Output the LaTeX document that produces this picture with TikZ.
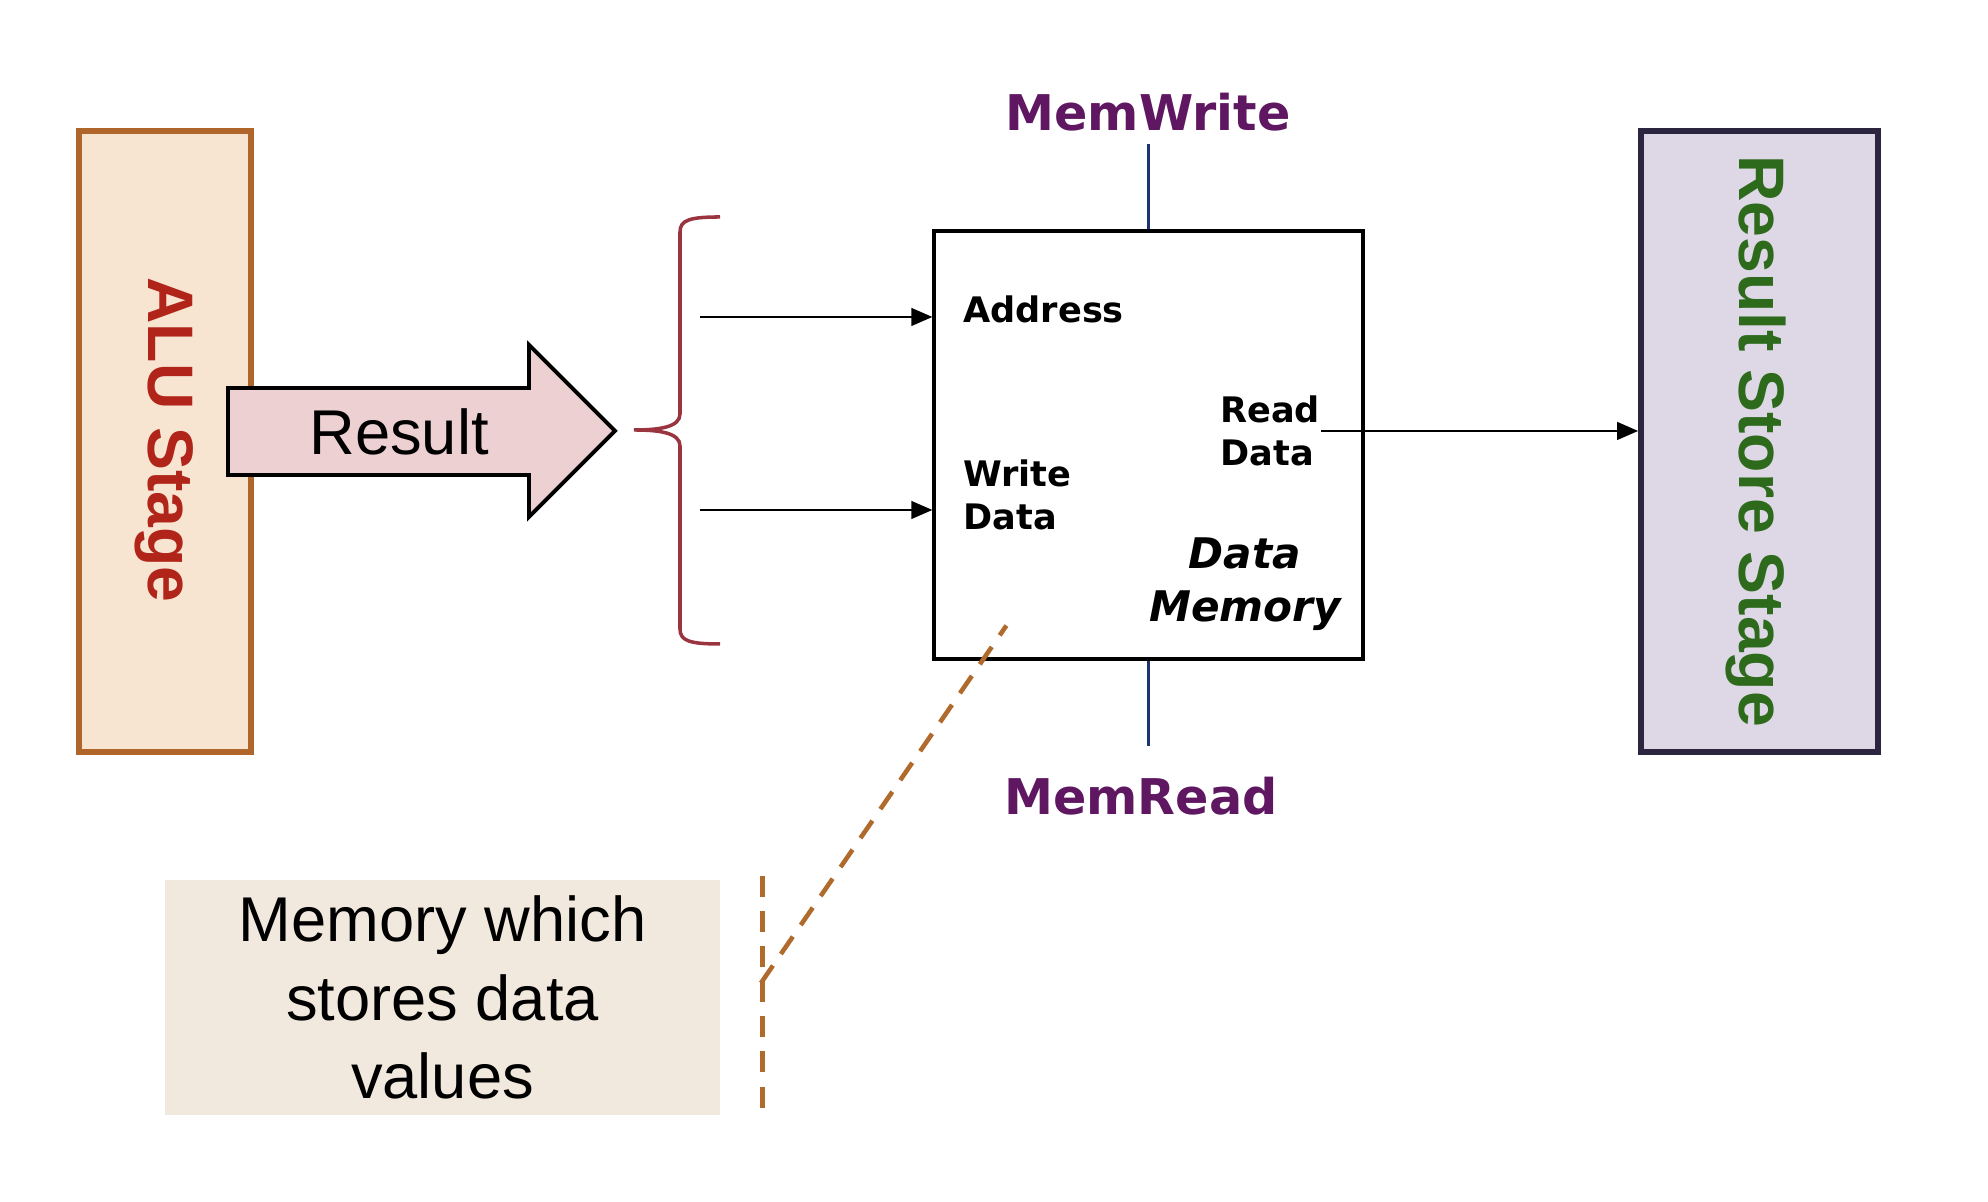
\documentclass[tikz,border=0pt]{standalone}
\usepackage{fontspec}
\setmainfont{Liberation Sans}
\newfontfamily\verd{DejaVu Sans}[ItalicFont={DejaVu Sans Oblique},BoldItalicFont={DejaVu Sans Bold Oblique}]
\usetikzlibrary{arrows.meta}

\definecolor{alufill}{HTML}{F8E5D1}
\definecolor{aluline}{HTML}{B0652B}
\definecolor{alutext}{HTML}{B0241A}
\definecolor{resfill}{HTML}{EDD0D2}
\definecolor{bracecol}{HTML}{9A3540}
\definecolor{ctlcol}{HTML}{5F1762}
\definecolor{wirecol}{HTML}{1C3470}
\definecolor{rsfill}{HTML}{DED8E6}
\definecolor{rsline}{HTML}{2B2540}
\definecolor{rstext}{HTML}{2E6A1C}
\definecolor{notefill}{HTML}{F2E9DE}
\definecolor{callout}{HTML}{B06A2C}

\begin{document}
\begin{tikzpicture}[
            > = {Triangle[length=6pt,width=5pt]}, % arrow head style
            line width = 0.75pt,
            stagebox/.style = {draw, inner sep=0, minimum height=6.21cm},
            stagetext/.style = {rotate=-90, font=\bfseries\fontsize{18.3}{20}\selectfont},
            port/.style = {anchor=west, inner sep=0, align=left,
                font=\verd\bfseries\fontsize{10}{12.2}\selectfont},
            ctl/.style = {text=ctlcol, font=\verd\bfseries\fontsize{14}{16}\selectfont},
            ctlwire/.style = {draw=wirecol, line width=0.9pt},
            dashline/.style = {draw=callout, line width=1.3pt, dash pattern=on 6pt off 4pt}
        ]

        \useasboundingbox (0,0) rectangle (19.88,12.02);

        % pipeline stages
        \node[stagebox, draw=aluline, fill=alufill, line width=1.5pt, minimum width=1.72cm] (alu) at (1.65,7.605) {};
        \node[stagetext, text=alutext] (alulbl) at (1.64,7.62) {ALU Stage};

        \node[stagebox, draw=rsline, fill=rsfill, line width=1.6pt, minimum width=2.37cm] (rs) at (17.595,7.605) {};
        \node[stagetext, text=rstext] (rslbl) at (17.56,7.61) {Result Store Stage};

        % big arrow
        \draw[fill=resfill, line width=1.1pt] (2.28,8.14) -- (5.29,8.14) -- (5.29,8.57)
            -- (6.15,7.71) -- (5.29,6.85) -- (5.29,7.27) -- (2.28,7.27) -- cycle;
        \node[font=\fontsize{18}{20}\selectfont] (res) at (3.99,7.70) {Result};

        % brace
        \draw[bracecol, line width=1pt] (7.20,9.85) .. controls (6.90,9.85) and (6.80,9.82) .. (6.80,9.70)
            -- (6.80,7.88) .. controls (6.80,7.75) and (6.60,7.72) .. (6.34,7.72)
            .. controls (6.60,7.72) and (6.80,7.69) .. (6.80,7.56)
            -- (6.80,5.73) .. controls (6.80,5.61) and (6.90,5.58) .. (7.20,5.58);

        % data memory
        \node[draw, fill=white, line width=0.9pt, minimum width=4.29cm, minimum height=4.28cm] (mem) at (11.485,7.57) {};

        \node[port] (addr) at (9.62,8.93) {Address};
        \node[port] (wdata) at (9.62,7.07) {Write\\Data};
        \node[port] (rdata) at (12.19,7.71) {Read\\Data};
        \node[align=center, font=\verd\bfseries\itshape\fontsize{12}{15}\selectfont] (dm) at (12.45,6.18) {Data\\Memory};

        \coordinate (ain) at (7.00,8.85);
        \coordinate (win) at (7.00,6.92);
        \coordinate (rout) at (13.21,7.71);

        \draw[->] (ain) -- (mem.west |- ain);
        \draw[->] (win) -- (mem.west |- win);
        \draw[->] (rout) -- (rs.west |- rout);

        % control signals
        \node[ctl] (mw) at (11.48,10.90) {MemWrite};
        \node[ctl] (mr) at (11.41,4.06) {MemRead};
        \draw[ctlwire] (mem.north) -- (mem.north |- mw.south);
        \draw[ctlwire] (mem.south) -- ([yshift=5pt]mem.south |- mr.north);

        % note
        \node[fill=notefill, minimum width=5.55cm, minimum height=2.35cm, align=center,
            font=\fontsize{18}{22.4}\selectfont] (note) at (4.425,2.045) {Memory which\\stores data\\values};

        \coordinate (ctop) at ([xshift=0.41cm, yshift=0.03cm]note.north east);
        \coordinate (cbot) at ([xshift=0.41cm]note.south east);
        \coordinate (cmid) at (7.61,2.19);
        \coordinate (cend) at ([xshift=0.74cm, yshift=0.35cm]mem.south west);
        \draw[dashline] (ctop) -- (cbot);
        \draw[dashline] (cmid) -- (cend);
    \end{tikzpicture}
\end{document}
